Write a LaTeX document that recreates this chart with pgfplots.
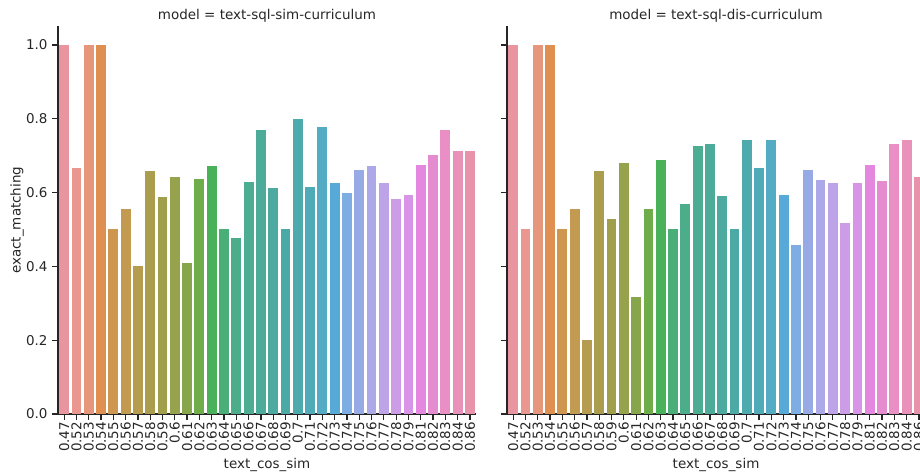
\documentclass[border=0pt]{standalone}
\usepackage{fontspec}
\setmainfont{DejaVu Sans}
\usepackage{pgfplots}
\usepackage{pgfplotstable}
\pgfplotsset{compat=1.18}

\definecolor{txt}{HTML}{262626}
\definecolor{c0}{HTML}{E995A0}
\definecolor{c1}{HTML}{E9978F}
\definecolor{c2}{HTML}{E6967B}
\definecolor{c3}{HTML}{DF8F4F}
\definecolor{c4}{HTML}{CF9650}
\definecolor{c5}{HTML}{C29B50}
\definecolor{c6}{HTML}{B59C4E}
\definecolor{c7}{HTML}{AA9D4D}
\definecolor{c8}{HTML}{A0A04C}
\definecolor{c9}{HTML}{97A34C}
\definecolor{c10}{HTML}{87A64B}
\definecolor{c11}{HTML}{6FAD4B}
\definecolor{c12}{HTML}{4AB15B}
\definecolor{c13}{HTML}{4AAE79}
\definecolor{c14}{HTML}{4BAD8A}
\definecolor{c15}{HTML}{4CAD93}
\definecolor{c16}{HTML}{4CAB99}
\definecolor{c17}{HTML}{4CAAA0}
\definecolor{c18}{HTML}{4CAAA6}
\definecolor{c19}{HTML}{4DABAE}
\definecolor{c20}{HTML}{50ABB9}
\definecolor{c21}{HTML}{53ACC4}
\definecolor{c22}{HTML}{57A9D7}
\definecolor{c23}{HTML}{7DADE3}
\definecolor{c24}{HTML}{98AAE6}
\definecolor{c25}{HTML}{ADA8E8}
\definecolor{c26}{HTML}{BDA4E8}
\definecolor{c27}{HTML}{CC9DE6}
\definecolor{c28}{HTML}{D894E6}
\definecolor{c29}{HTML}{E487DF}
\definecolor{c30}{HTML}{E58BD0}
\definecolor{c31}{HTML}{E98FC5}
\definecolor{c32}{HTML}{EA91B9}
\definecolor{c33}{HTML}{E893AB}

\pgfplotstableread{
x sim dis
0 1.0 1.0
1 0.667 0.5
2 1.0 1.0
3 1.0 1.0
4 0.5 0.5
5 0.556 0.556
6 0.4 0.2
7 0.659 0.659
8 0.589 0.529
9 0.643 0.679
10 0.408 0.318
11 0.638 0.556
12 0.672 0.689
13 0.5 0.5
14 0.478 0.569
15 0.628 0.726
16 0.770 0.731
17 0.612 0.592
18 0.5 0.5
19 0.8 0.743
20 0.614 0.667
21 0.778 0.743
22 0.625 0.593
23 0.6 0.458
24 0.661 0.661
25 0.672 0.633
26 0.625 0.626
27 0.582 0.517
28 0.593 0.626
29 0.675 0.675
30 0.703 0.631
31 0.770 0.731
32 0.713 0.743
33 0.713 0.643
}\data

\newcommand{\fs}{\fontsize{9.7}{11.6}\selectfont}

\pgfplotsset{
  every axis title/.style={at={(0.5,1)}, anchor=base, yshift=5pt, font=\fs, text=txt},
  facet/.style={
    scale only axis, width=301pt, height=279pt,
    xmin=-0.5, xmax=33.5, ymin=0, ymax=1.05,
    axis x line*=bottom, axis y line*=left,
    axis line style={txt, line width=0.9pt},
    tick style={txt, line width=0.9pt},
    tick align=outside, major tick length=4pt,
    xtick={0,...,33},
    xticklabels={0.47,0.52,0.53,0.54,0.55,0.56,0.57,0.58,0.59,0.6,0.61,0.62,0.63,0.64,0.65,0.66,0.67,0.68,0.69,0.7,0.71,0.72,0.73,0.74,0.75,0.76,0.77,0.78,0.79,0.81,0.82,0.83,0.84,0.86},
    xticklabel style={rotate=90, anchor=east, font=\fs, text=txt, inner sep=1.5pt},
    ytick={0,0.2,0.4,0.6,0.8,1.0},
    yticklabel style={font=\fs, text=txt, /pgf/number format/.cd, fixed, fixed zerofill, precision=1, assume math mode=true},
    /pgf/number format/assume math mode=true,
    xlabel={text\_cos\_sim},
    xlabel style={font=\fs, text=txt, at={(axis description cs:0.5,0)}, anchor=base, yshift=-39.6pt},
    clip=false,
  }
}

\begin{document}
\begin{tikzpicture}
\begin{axis}[facet, at={(0,0)}, anchor=south west,
  title={model = text-sql-sim-curriculum},
  ylabel={exact\_matching},
  ylabel style={font=\fs, text=txt, at={(axis description cs:-0.098,0.5)}, anchor=center, rotate=0},
]
\pgfplotsinvokeforeach{0,...,33}{
  \addplot[ybar, bar width=0.8, bar shift=0pt, fill=c#1, draw=none, restrict x to domain=#1:#1] table[x=x, y=sim] {\data};
}
\end{axis}
\begin{axis}[facet, at={(323.3pt,0)}, anchor=south west,
  title={model = text-sql-dis-curriculum},
  yticklabels={},
]
\pgfplotsinvokeforeach{0,...,33}{
  \addplot[ybar, bar width=0.8, bar shift=0pt, fill=c#1, draw=none, restrict x to domain=#1:#1] table[x=x, y=dis] {\data};
}
\end{axis}
\pgfresetboundingbox
\path[use as bounding box] (-41.76pt,-44.64pt) rectangle (620.64pt,298.08pt);
\end{tikzpicture}
\end{document}
